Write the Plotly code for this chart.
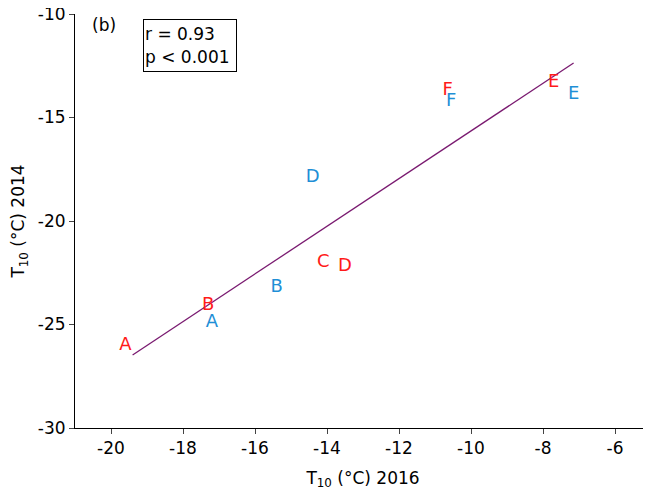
import plotly.graph_objects as go

# Red group
red_labels = ["A", "B", "C", "D", "E", "F"]
red_x = [-19.6, -17.3, -14.1, -13.5, -7.7, -10.65]
red_y = [-26.0, -24.1, -22.0, -22.2, -13.3, -13.7]

# Blue group
blue_labels = ["A", "B", "D", "E", "F"]
blue_x = [-17.2, -15.4, -14.4, -7.15, -10.55]
blue_y = [-24.9, -23.2, -17.9, -13.9, -14.25]

# Regression line endpoints
fit_x = [-19.4, -7.15]
fit_y = [-26.47, -12.37]

x_ticks = [-20, -18, -16, -14, -12, -10, -8, -6]
x_tick_labels = ["-20", "-18", "-16", "-14", "-12", "-10", "-8", "-6"]
y_ticks = [-30, -25, -20, -15, -10]
y_tick_labels = ["-30", "-25", "-20", "-15", "-10"]

FONT = "DejaVu Sans"

fig = go.Figure()
fig.add_trace(go.Scatter(x=fit_x, y=fit_y, mode="lines",
                         line=dict(color="#7a1a70", width=1.3),
                         hoverinfo="skip", showlegend=False))
fig.add_trace(go.Scatter(x=red_x, y=red_y, mode="text", text=red_labels,
                         textposition="middle center",
                         textfont=dict(color="#ff1a1a", size=18, family=FONT),
                         showlegend=False))
fig.add_trace(go.Scatter(x=blue_x, y=blue_y, mode="text", text=blue_labels,
                         textposition="middle center",
                         textfont=dict(color="#1f8fd6", size=18, family=FONT),
                         showlegend=False))

fig.add_annotation(x=0.051, y=0.973, xref="paper", yref="paper", text="(b)",
                   showarrow=False, xanchor="center", yanchor="middle",
                   font=dict(size=17, family=FONT, color="black"))
fig.add_annotation(x=0.118, y=0.988, xref="paper", yref="paper",
                   text="r = 0.93<br>p < 0.001", align="left", valign="middle",
                   width=90, height=49,
                   showarrow=False, xanchor="left", yanchor="top",
                   bordercolor="black", borderwidth=1, borderpad=1,
                   bgcolor="white",
                   font=dict(size=17, family=FONT, color="black"))

fig.update_layout(
    width=643, height=488,
    margin=dict(l=67, r=0, t=6, b=68),
    plot_bgcolor="white", paper_bgcolor="white",
    font=dict(family=FONT, size=17, color="black"),
    xaxis=dict(range=[-21, -5], tickvals=x_ticks, ticktext=x_tick_labels,
               ticks="outside", ticklen=5, automargin=False,
               ticklabeloverflow="allow",
               showline=True, linecolor="black", linewidth=1, showgrid=False,
               zeroline=False, tickfont=dict(size=17),
               title=dict(text="T<sub>10</sub> (°C) 2016", font=dict(size=17), standoff=14)),
    yaxis=dict(range=[-30, -10], tickvals=y_ticks, ticktext=y_tick_labels,
               ticks="outside", ticklen=5, automargin=False,
               ticklabeloverflow="allow",
               showline=True, linecolor="black", linewidth=1, showgrid=False,
               zeroline=False, tickfont=dict(size=17),
               title=dict(text="T<sub>10</sub> (°C) 2014", font=dict(size=17), standoff=10)),
)

fig.write_html("out.html")
